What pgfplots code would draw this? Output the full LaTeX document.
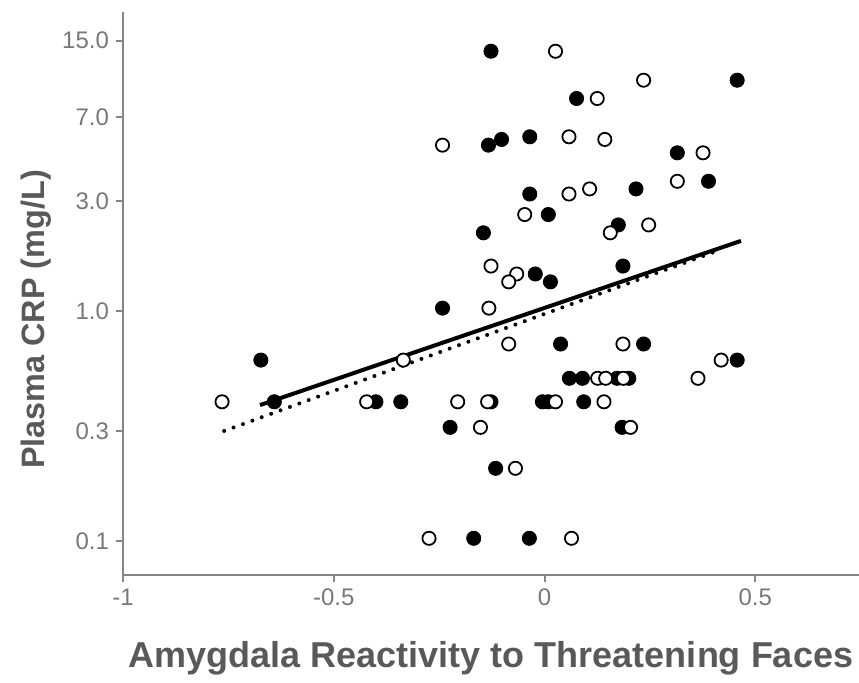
\documentclass[border=0pt]{standalone}
\usepackage{fontspec}
\setmainfont{Liberation Sans}
\usepackage{pgfplots}
\pgfplotsset{compat=1.18}
\definecolor{axgray}{RGB}{134,134,134}
\definecolor{tickgray}{RGB}{120,120,120}
\definecolor{labgray}{RGB}{89,89,89}

\begin{document}
\begin{tikzpicture}
\begin{axis}[
  scale only axis,
  width=368pt, height=281.5pt,
  xmin=-1, xmax=0.746,
  ymode=log, ymin=0.0711, ymax=20,
  axis x line*=bottom, axis y line*=left,
  axis line style={axgray, line width=1pt},
  tick style={axgray, line width=1pt},
  tick align=outside,
  major tick length=3.5pt,
  minor tick num=0,
  xtick={-1,-0.5,0,0.5},
  xticklabels={-1,-0.5,0,0.5},
  ytick={0.1,0.3,1,3,7,15},
  yticklabels={0.1,0.3,1.0,3.0,7.0,15.0},
  log basis y=10,
  ticklabel style={font=\fontsize{12}{14}\selectfont, text=tickgray},
  xlabel={Amygdala Reactivity to Threatening Faces},
  ylabel={Plasma CRP (mg/L)},
  xlabel style={font=\fontsize{18}{21}\selectfont\bfseries, text=labgray,
    at={(rel axis cs:0.5,0)}, anchor=center, yshift=-41.5pt},
  ylabel style={font=\fontsize{16.2}{19}\selectfont\bfseries, text=labgray,
    at={(rel axis cs:0,0.5)}, anchor=center, xshift=-13pt, yshift=43.5pt},
  clip=false,
]
% filled circles
\addplot[only marks, mark=*, mark size=3.55pt, mark options={draw=black, fill=black, line width=0.4pt}] coordinates {
  (-0.127,13.5) (0.457,10.1) (0.076,8.41) (-0.133,5.27) (-0.102,5.58)
  (-0.035,5.73) (0.315,4.88) (-0.035,3.23) (0.217,3.40) (0.389,3.67)
  (0.009,2.63) (0.175,2.37) (-0.145,2.19) (0.186,1.57) (-0.022,1.45)
  (0.014,1.34) (-0.242,1.03) (-0.673,0.612) (0.038,0.719) (0.235,0.719)
  (0.457,0.612) (0.059,0.510) (0.090,0.510) (0.172,0.510) (0.200,0.510)
  (-0.641,0.403) (-0.400,0.403) (-0.341,0.403) (-0.005,0.403) (0.009,0.403)
  (0.093,0.403) (-0.127,0.403) (-0.224,0.312) (0.184,0.312) (-0.116,0.207)
  (-0.168,0.1027) (-0.036,0.1027)
};
% open circles
\addplot[only marks, mark=*, mark size=3.3pt, mark options={draw=black, fill=white, line width=0.9pt}] coordinates {
  (0.026,13.5) (0.235,10.1) (0.125,8.41) (-0.242,5.27) (0.058,5.73)
  (0.143,5.58) (0.376,4.88) (0.058,3.23) (0.107,3.40) (0.315,3.67)
  (-0.047,2.63) (0.156,2.19) (0.247,2.37) (-0.127,1.57) (-0.066,1.45)
  (-0.085,1.34) (-0.132,1.03) (-0.335,0.612) (-0.085,0.719) (0.186,0.719)
  (0.419,0.612) (0.364,0.510) (0.126,0.510) (0.145,0.510) (0.187,0.510)
  (-0.765,0.403) (-0.422,0.403) (-0.206,0.403) (-0.135,0.403) (0.026,0.403)
  (0.141,0.403) (-0.152,0.312) (0.204,0.312) (-0.069,0.207)
  (-0.274,0.1027) (0.064,0.1027)
};
% regression lines
\addplot[black, line width=2pt, no marks] coordinates {(-0.675,0.390) (0.466,2.02)};
\addplot[black, line width=2pt, no marks, line cap=round, dash pattern=on 0pt off 5pt] coordinates {(-0.760,0.301) (0.421,1.86)};
\coordinate (bl) at (rel axis cs:0,0);
\end{axis}
\pgfresetboundingbox
\useasboundingbox (bl) ++(-61.5pt,-53.5pt) rectangle ++(429.5pt,341pt);
\end{tikzpicture}
\end{document}
